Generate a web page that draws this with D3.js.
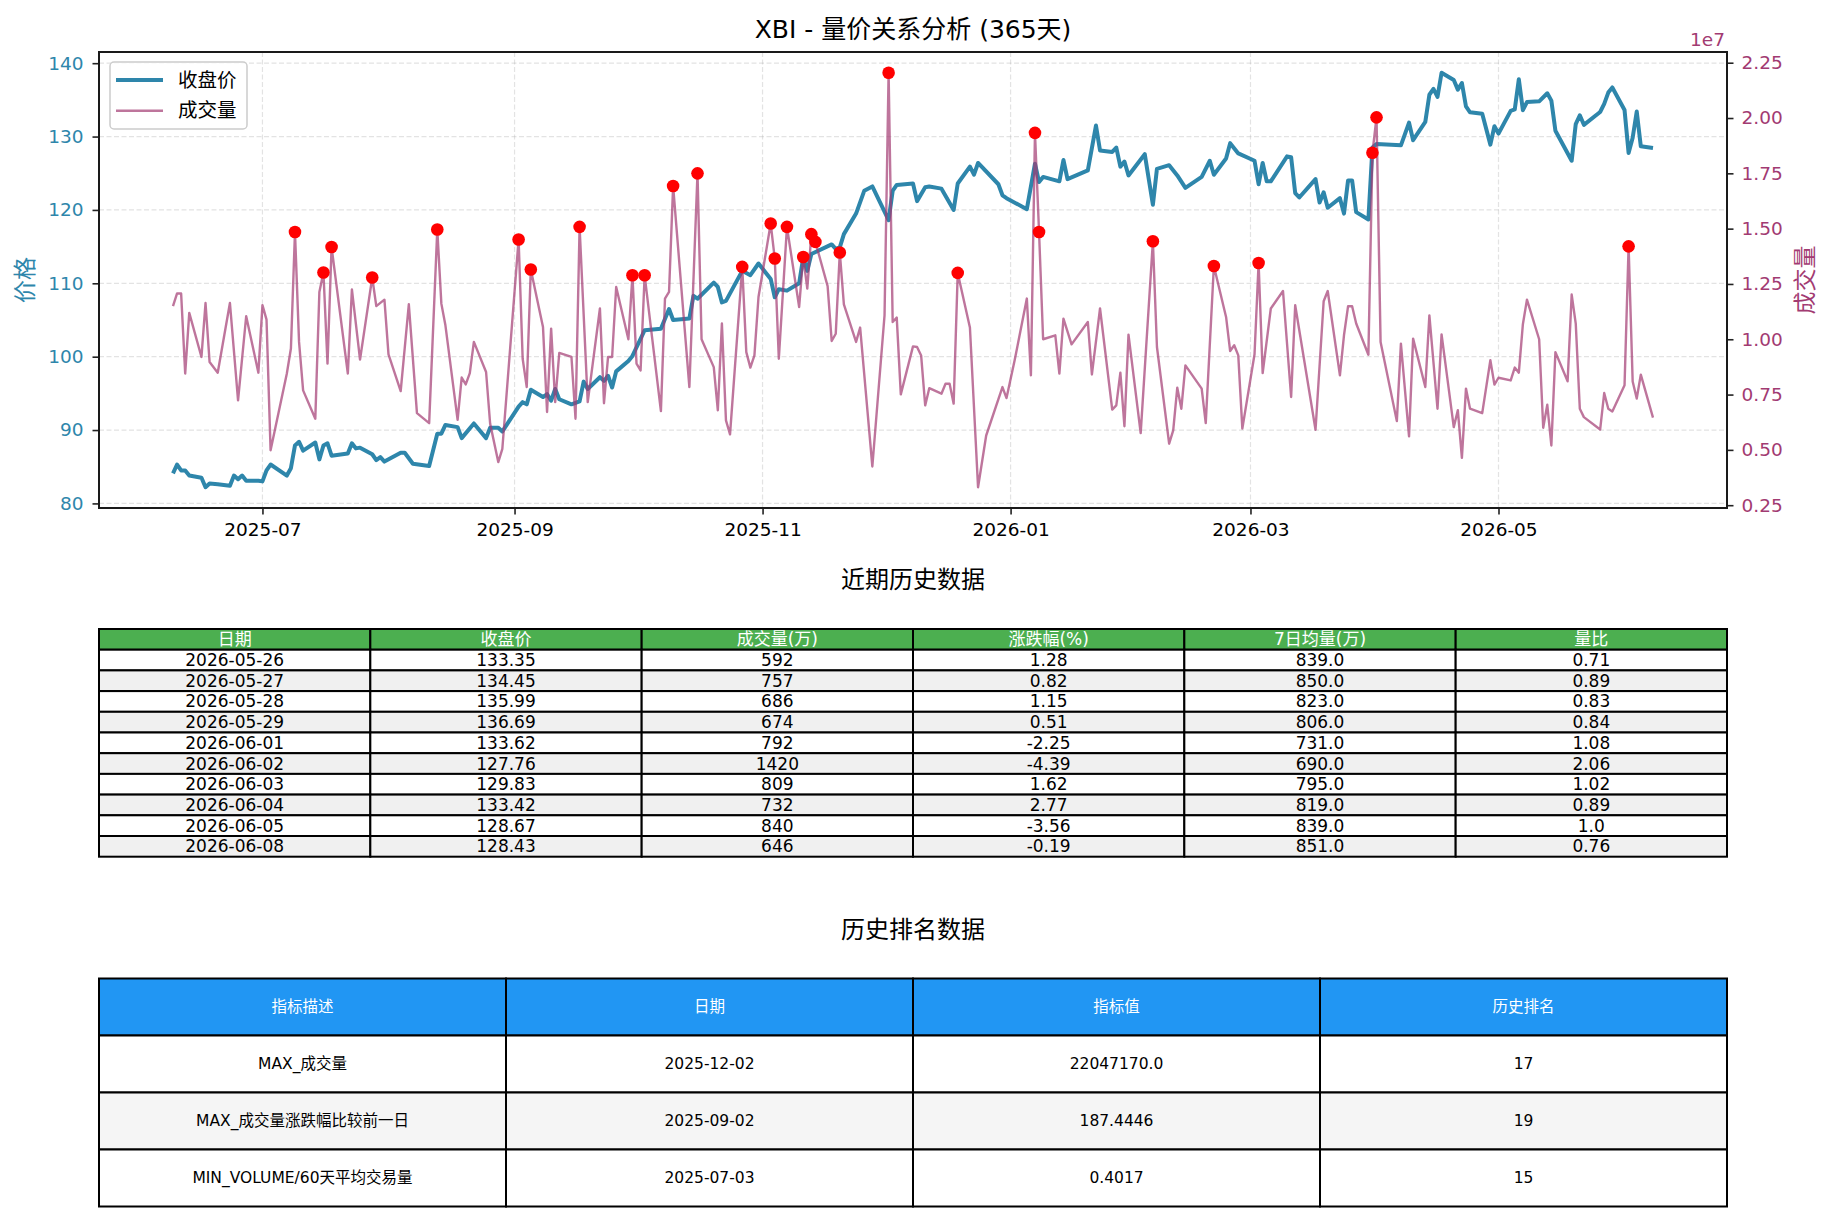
<!DOCTYPE html>
<html>
<head>
<meta charset="utf-8">
<script src="https://cdn.jsdelivr.net/npm/d3@7"></script>
<style>
  body { margin: 0; background: #fff; }
  svg { display: block; font-family: "DejaVu Sans", "Noto Sans CJK SC", sans-serif; }
</style>
</head>
<body>
<script>
// closing price (turning points)
const priceDates = [
  '2025-06-09','2025-06-10','2025-06-11','2025-06-12','2025-06-13','2025-06-16','2025-06-17','2025-06-18','2025-06-20','2025-06-23',
  '2025-06-24','2025-06-25','2025-06-26','2025-06-27','2025-06-30','2025-07-01','2025-07-02','2025-07-03','2025-07-07','2025-07-08',
  '2025-07-09','2025-07-10','2025-07-11','2025-07-14','2025-07-15','2025-07-16','2025-07-17','2025-07-18','2025-07-22','2025-07-23',
  '2025-07-24','2025-07-25','2025-07-28','2025-07-29','2025-07-30','2025-07-31','2025-08-04','2025-08-05','2025-08-07','2025-08-11',
  '2025-08-13','2025-08-14','2025-08-15','2025-08-18','2025-08-19','2025-08-22','2025-08-25','2025-08-26','2025-08-28','2025-08-29',
  '2025-09-02','2025-09-03','2025-09-04','2025-09-05','2025-09-08','2025-09-09','2025-09-10','2025-09-11','2025-09-12','2025-09-15',
  '2025-09-17','2025-09-18','2025-09-19','2025-09-22','2025-09-23','2025-09-24','2025-09-25','2025-09-26','2025-09-29','2025-09-30',
  '2025-10-03','2025-10-07','2025-10-09','2025-10-10','2025-10-14','2025-10-15','2025-10-16','2025-10-20','2025-10-21','2025-10-22',
  '2025-10-23','2025-10-27','2025-10-29','2025-10-31','2025-11-03','2025-11-04','2025-11-05','2025-11-07','2025-11-10','2025-11-11',
  '2025-11-12','2025-11-13','2025-11-18','2025-11-19','2025-11-20','2025-11-21','2025-11-24','2025-11-26','2025-11-28','2025-12-02',
  '2025-12-03','2025-12-04','2025-12-08','2025-12-09','2025-12-11','2025-12-12','2025-12-15','2025-12-18','2025-12-19','2025-12-22',
  '2025-12-23','2025-12-24','2025-12-29','2025-12-30','2025-12-31','2026-01-05','2026-01-07','2026-01-08','2026-01-09','2026-01-13',
  '2026-01-14','2026-01-15','2026-01-20','2026-01-22','2026-01-23','2026-01-26','2026-01-27','2026-01-28','2026-01-29','2026-01-30',
  '2026-02-03','2026-02-05','2026-02-06','2026-02-09','2026-02-11','2026-02-13','2026-02-17','2026-02-19','2026-02-20','2026-02-23',
  '2026-02-24','2026-02-26','2026-03-02','2026-03-03','2026-03-04','2026-03-05','2026-03-06','2026-03-10','2026-03-11','2026-03-12',
  '2026-03-13','2026-03-17','2026-03-18','2026-03-19','2026-03-20','2026-03-23','2026-03-24','2026-03-25','2026-03-26','2026-03-27',
  '2026-03-30','2026-03-31','2026-04-01','2026-04-07','2026-04-09','2026-04-10','2026-04-13','2026-04-14','2026-04-15','2026-04-16',
  '2026-04-17','2026-04-20','2026-04-21','2026-04-22','2026-04-23','2026-04-24','2026-04-27','2026-04-29','2026-04-30','2026-05-01',
  '2026-05-04','2026-05-05','2026-05-06','2026-05-07','2026-05-08','2026-05-11','2026-05-13','2026-05-14','2026-05-15','2026-05-19',
  '2026-05-20','2026-05-21','2026-05-22','2026-05-26','2026-05-27','2026-05-28','2026-05-29','2026-06-01','2026-06-02','2026-06-03',
  '2026-06-04','2026-06-05','2026-06-08'
];
const priceClose = [
  84.1, 85.3, 84.5, 84.5, 83.8, 83.5, 82.2, 82.7, 82.6, 82.4,
  83.8, 83.3, 83.8, 83.1, 83.1, 83.0, 84.5, 85.3, 83.8, 84.8,
  87.9, 88.4, 87.2, 88.3, 86.0, 87.9, 88.2, 86.5, 86.8, 88.2,
  87.5, 87.6, 86.7, 85.9, 86.3, 85.7, 86.9, 86.9, 85.4, 85.1,
  89.5, 89.5, 90.7, 90.4, 88.9, 90.9, 88.9, 90.3, 90.3, 89.8,
  93.2, 93.8, 93.5, 95.5, 94.5, 94.9, 94.0, 95.6, 94.2, 93.5,
  93.9, 96.6, 95.6, 97.2, 96.7, 97.4, 95.8, 98.0, 99.4, 100.1,
  103.6, 103.8, 106.5, 105.0, 105.2, 108.3, 107.9, 110.1, 109.5, 107.4,
  107.6, 111.7, 111.1, 112.7, 110.6, 108.1, 109.2, 109.0, 110.0, 113.5,
  111.7, 114.0, 115.3, 114.7, 114.9, 116.7, 119.5, 122.6, 123.2, 118.6,
  122.6, 123.4, 123.6, 121.2, 123.1, 123.2, 122.9, 120.0, 123.6, 125.9,
  124.8, 126.4, 123.5, 122.0, 121.6, 120.1, 126.3, 123.8, 124.5, 123.9,
  126.8, 124.2, 125.4, 131.5, 128.1, 127.9, 128.5, 125.9, 126.6, 124.7,
  127.6, 120.7, 125.6, 126.1, 124.7, 123.0, 124.5, 126.7, 124.8, 127.0,
  129.1, 127.7, 126.7, 123.5, 126.4, 123.9, 123.9, 127.3, 127.2, 122.3,
  121.7, 124.2, 121.0, 122.4, 120.3, 121.6, 119.5, 124.0, 124.0, 119.7,
  118.7, 128.5, 129.0, 128.8, 131.9, 129.5, 132.0, 135.7, 136.5, 135.4,
  138.7, 137.7, 136.4, 137.3, 134.1, 133.3, 133.1, 128.9, 131.4, 130.4,
  133.5, 133.7, 137.8, 133.6, 134.7, 134.8, 135.9, 134.9, 130.8, 126.7,
  131.7, 132.9, 131.6, 133.35, 134.45, 135.99, 136.69, 133.62, 127.76, 129.83,
  133.42, 128.67, 128.43
];

// volume in 万 (10k shares)
const volDates = [
  '2025-06-09','2025-06-10','2025-06-11','2025-06-12','2025-06-13','2025-06-16','2025-06-17','2025-06-18','2025-06-20','2025-06-23',
  '2025-06-25','2025-06-27','2025-06-30','2025-07-01','2025-07-02','2025-07-03','2025-07-07','2025-07-08','2025-07-09','2025-07-10',
  '2025-07-11','2025-07-14','2025-07-15','2025-07-16','2025-07-17','2025-07-18','2025-07-22','2025-07-23','2025-07-25','2025-07-28',
  '2025-07-29','2025-07-31','2025-08-01','2025-08-04','2025-08-06','2025-08-08','2025-08-11','2025-08-13','2025-08-14','2025-08-15',
  '2025-08-18','2025-08-19','2025-08-20','2025-08-21','2025-08-22','2025-08-25','2025-08-26','2025-08-28','2025-08-29','2025-09-02',
  '2025-09-03','2025-09-04','2025-09-05','2025-09-08','2025-09-09','2025-09-10','2025-09-11','2025-09-12','2025-09-15','2025-09-16',
  '2025-09-17','2025-09-19','2025-09-22','2025-09-23','2025-09-24','2025-09-25','2025-09-26','2025-09-29','2025-09-30','2025-10-01',
  '2025-10-02','2025-10-03','2025-10-07','2025-10-08','2025-10-09','2025-10-10','2025-10-14','2025-10-16','2025-10-17','2025-10-20',
  '2025-10-21','2025-10-22','2025-10-23','2025-10-24','2025-10-27','2025-10-28','2025-10-29','2025-10-30','2025-10-31','2025-11-03',
  '2025-11-04','2025-11-05','2025-11-07','2025-11-10','2025-11-11','2025-11-12','2025-11-13','2025-11-14','2025-11-17','2025-11-18',
  '2025-11-19','2025-11-20','2025-11-21','2025-11-24','2025-11-25','2025-11-28','2025-12-01','2025-12-02','2025-12-03','2025-12-04',
  '2025-12-05','2025-12-08','2025-12-09','2025-12-10','2025-12-11','2025-12-12','2025-12-15','2025-12-16','2025-12-17','2025-12-18',
  '2025-12-19','2025-12-22','2025-12-24','2025-12-26','2025-12-30','2025-12-31','2026-01-02','2026-01-05','2026-01-06','2026-01-07',
  '2026-01-08','2026-01-09','2026-01-12','2026-01-13','2026-01-14','2026-01-16','2026-01-20','2026-01-21','2026-01-23','2026-01-26',
  '2026-01-27','2026-01-28','2026-01-29','2026-01-30','2026-02-02','2026-02-05','2026-02-06','2026-02-09','2026-02-10','2026-02-11',
  '2026-02-12','2026-02-13','2026-02-17','2026-02-18','2026-02-20','2026-02-23','2026-02-24','2026-02-25','2026-02-26','2026-02-27',
  '2026-03-02','2026-03-03','2026-03-04','2026-03-06','2026-03-09','2026-03-11','2026-03-12','2026-03-17','2026-03-19','2026-03-20',
  '2026-03-23','2026-03-24','2026-03-25','2026-03-26','2026-03-27','2026-03-30','2026-03-31','2026-04-01','2026-04-02','2026-04-06',
  '2026-04-07','2026-04-09','2026-04-10','2026-04-13','2026-04-14','2026-04-16','2026-04-17','2026-04-20','2026-04-21','2026-04-22',
  '2026-04-23','2026-04-24','2026-04-27','2026-04-29','2026-04-30','2026-05-01','2026-05-04','2026-05-05','2026-05-06','2026-05-07',
  '2026-05-08','2026-05-11','2026-05-12','2026-05-13','2026-05-14','2026-05-15','2026-05-18','2026-05-19','2026-05-20','2026-05-21',
  '2026-05-22','2026-05-26','2026-05-27','2026-05-28','2026-05-29','2026-06-01','2026-06-02','2026-06-03','2026-06-04','2026-06-05',
  '2026-06-08'
];
const volWan = [
  1150, 1207, 1207, 845, 1119, 920, 1164, 897, 849, 1164,
  724, 1104, 849, 1154, 1089, 498, 845, 958, 1485, 988,
  769, 641, 1214, 1302, 890, 1417, 845, 1225, 908, 1279,
  1150, 1179, 932, 766, 1158, 666, 621, 1496, 1161, 1063,
  636, 827, 796, 847, 988, 852, 618, 445, 505, 1451,
  912, 784, 1315, 1055, 671, 1048, 716, 938, 920, 641,
  1508, 716, 1139, 711, 920, 920, 1236, 1000, 1289, 890,
  859, 1289, 675, 1184, 1214, 1693, 784, 1750, 1000, 874,
  679, 1071, 633, 570, 1327, 942, 872, 927, 1191, 1523,
  1365, 912, 1508, 1146, 1372, 1229, 1475, 1440, 1240, 992,
  1025, 1392, 1158, 988, 1053, 425, 1108, 2204.717, 1078, 1098,
  751, 968, 965, 927, 701, 779, 754, 799, 799, 709,
  1300, 1053, 331, 565, 784, 734, 905, 1184, 837, 1933,
  1485, 1000, 1018, 845, 1093, 977, 1078, 841, 1139, 682,
  701, 849, 607, 1021, 576, 1443, 965, 528, 588, 781,
  686, 882, 777, 621, 1331, 1101, 947, 973, 927, 596,
  932, 1345, 847, 1139, 1218, 739, 1154, 591, 1172, 1218,
  837, 1018, 1149, 1149, 1071, 930, 1843, 2003, 988, 630,
  980, 561, 1003, 784, 1108, 686, 1022, 603, 679, 464,
  777, 686, 666, 905, 795, 826, 814, 872, 849, 1068,
  1179, 1000, 600, 704, 520, 942, 810, 1202, 1071, 686,
  648, 592, 757, 686, 674, 792, 1420, 809, 732, 840,
  646
];

// days marked as volume spikes
const spikeDates = [
  '2025-07-09','2025-07-16','2025-07-18','2025-07-28','2025-08-13','2025-09-02','2025-09-05','2025-09-17','2025-09-30','2025-10-03',
  '2025-10-10','2025-10-16','2025-10-27','2025-11-03','2025-11-04','2025-11-07','2025-11-11','2025-11-13','2025-11-14','2025-11-20',
  '2025-12-02','2025-12-19','2026-01-07','2026-01-08','2026-02-05','2026-02-20','2026-03-03','2026-03-31','2026-04-01','2026-06-02'
];

const priceTicks = [80, 90, 100, 110, 120, 130, 140];
const volTicks = [0.25, 0.5, 0.75, 1.0, 1.25, 1.5, 1.75, 2.0, 2.25];
const monthTicks = ['2025-07', '2025-09', '2025-11', '2026-01', '2026-03', '2026-05'];

// recent history table
const recentHeaders = ['日期', '收盘价', '成交量(万)', '涨跌幅(%)', '7日均量(万)', '量比'];
const recentDates = ['2026-05-26','2026-05-27','2026-05-28','2026-05-29','2026-06-01','2026-06-02','2026-06-03','2026-06-04','2026-06-05','2026-06-08'];
const recentClose = ['133.35','134.45','135.99','136.69','133.62','127.76','129.83','133.42','128.67','128.43'];
const recentVol = ['592','757','686','674','792','1420','809','732','840','646'];
const recentChange = ['1.28','0.82','1.15','0.51','-2.25','-4.39','1.62','2.77','-3.56','-0.19'];
const recentAvg7 = ['839.0','850.0','823.0','806.0','731.0','690.0','795.0','819.0','839.0','851.0'];
const recentRatio = ['0.71','0.89','0.83','0.84','1.08','2.06','1.02','0.89','1.0','0.76'];

// ranking table
const rankHeaders = ['指标描述', '日期', '指标值', '历史排名'];
const rankDesc = ['MAX_成交量', 'MAX_成交量涨跌幅比较前一日', 'MIN_VOLUME/60天平均交易量'];
const rankDates = ['2025-12-02', '2025-09-02', '2025-07-03'];
const rankValues = ['22047170.0', '187.4446', '0.4017'];
const rankPlaces = ['17', '19', '15'];

const W = 1833, H = 1222;
const m = {left: 99, right: 1727, top: 52, bottom: 508};
const priceColor = '#2E86AB', volColor = '#A23B72';

const svg = d3.select('body').append('svg')
    .attr('width', W)
    .attr('height', H);

const parse = d3.timeParse('%Y-%m-%d');
const price = priceDates.map((d, i) => ({date: parse(d), v: priceClose[i]}));
const vol = volDates.map((d, i) => ({date: parse(d), v: volWan[i] * 1e4}));
const volByDate = new Map(vol.map(d => [volDates[vol.indexOf(d)], d]));
const spikes = spikeDates.map(d => volByDate.get(d));

// matplotlib style 5% margins
const pad = ([lo, hi]) => [lo - (hi - lo) * 0.05, hi + (hi - lo) * 0.05];

const tExt = d3.extent(price, d => d.date);
const x = d3.scaleTime()
    .domain(pad(tExt.map(Number)).map(t => new Date(t)))
    .range([m.left, m.right]);
const y = d3.scaleLinear()
    .domain(pad(d3.extent(priceClose)))
    .range([m.bottom, m.top]);
const y2 = d3.scaleLinear()
    .domain(pad(d3.extent(vol, d => d.v)))
    .range([m.bottom, m.top]);

// grid
const grid = svg.append('g')
    .attr('stroke', '#b0b0b0')
    .attr('stroke-opacity', 0.35)
    .attr('stroke-width', 1.2)
    .attr('stroke-dasharray', '5,2.5');
grid.selectAll('.gy').data(priceTicks).enter().append('line')
    .attr('x1', m.left).attr('x2', m.right)
    .attr('y1', d => y(d)).attr('y2', d => y(d));
const monthDates = monthTicks.map(d3.timeParse('%Y-%m'));
grid.selectAll('.gx').data(monthDates).enter().append('line')
    .attr('y1', m.top).attr('y2', m.bottom)
    .attr('x1', d => x(d)).attr('x2', d => x(d));

// price line
svg.append('path')
    .datum(price)
    .attr('fill', 'none')
    .attr('stroke', priceColor)
    .attr('stroke-width', 4)
    .attr('stroke-linejoin', 'round')
    .attr('d', d3.line().x(d => x(d.date)).y(d => y(d.v)));

// volume line
svg.append('path')
    .datum(vol)
    .attr('fill', 'none')
    .attr('stroke', volColor)
    .attr('stroke-opacity', 0.7)
    .attr('stroke-width', 2.4)
    .attr('stroke-linejoin', 'round')
    .attr('d', d3.line().x(d => x(d.date)).y(d => y2(d.v)));

// spike markers
svg.selectAll('.spike')
    .data(spikes)
    .enter().append('circle')
    .attr('cx', d => x(d.date))
    .attr('cy', d => y2(d.v))
    .attr('r', 6.3)
    .attr('fill', '#ff0000');

// axes
function styleAxis(g, color) {
    g.select('.domain').remove();
    g.selectAll('.tick line').attr('stroke', '#222').attr('stroke-width', 1.6);
    g.selectAll('.tick text')
        .attr('fill', color)
        .style('font-size', '18.5px')
        .style('font-family', '"DejaVu Sans", sans-serif');
}

svg.append('g')
    .attr('transform', 'translate(' + m.left + ',0)')
    .call(d3.axisLeft(y).tickValues(priceTicks).tickSize(6.5).tickPadding(9))
    .call(g => styleAxis(g, priceColor));

svg.append('g')
    .attr('transform', 'translate(' + m.right + ',0)')
    .call(d3.axisRight(y2).tickValues(volTicks.map(v => v * 1e7))
        .tickFormat(d => (d / 1e7).toFixed(2)).tickSize(6.5).tickPadding(8))
    .call(g => styleAxis(g, volColor));

svg.append('g')
    .attr('transform', 'translate(0,' + m.bottom + ')')
    .call(d3.axisBottom(x).tickValues(monthDates).tickFormat(d3.timeFormat('%Y-%m')).tickSize(6.5).tickPadding(8.5))
    .call(g => styleAxis(g, '#000'));

// frame
svg.append('rect')
    .attr('x', m.left).attr('y', m.top)
    .attr('width', m.right - m.left).attr('height', m.bottom - m.top)
    .attr('fill', 'none')
    .attr('stroke', '#1a1a1a')
    .attr('stroke-width', 2);

// offset label for the volume axis
svg.append('text')
    .attr('x', 1725).attr('y', 46)
    .attr('text-anchor', 'end')
    .attr('fill', volColor)
    .style('font-size', '18.5px')
    .text('1e7');

// axis titles
svg.append('text')
    .attr('transform', 'translate(25,' + (m.top + m.bottom) / 2 + ') rotate(-90)')
    .attr('text-anchor', 'middle')
    .attr('dominant-baseline', 'central')
    .attr('fill', priceColor)
    .style('font-size', '23px')
    .text('价格');
svg.append('text')
    .attr('transform', 'translate(1805,' + (m.top + m.bottom) / 2 + ') rotate(-90)')
    .attr('text-anchor', 'middle')
    .attr('dominant-baseline', 'central')
    .attr('fill', volColor)
    .style('font-size', '23px')
    .text('成交量');

// chart title
svg.append('text')
    .attr('x', (m.left + m.right) / 2).attr('y', 38)
    .attr('text-anchor', 'middle')
    .style('font-size', '25px')
    .text('XBI - 量价关系分析 (365天)');

// legend
const legend = svg.append('g').attr('transform', 'translate(110,62)');
legend.append('rect')
    .attr('width', 137).attr('height', 67).attr('rx', 4)
    .attr('fill', '#fff').attr('fill-opacity', 0.8)
    .attr('stroke', '#cccccc').attr('stroke-width', 1.5);
legend.append('line')
    .attr('x1', 6).attr('x2', 53).attr('y1', 18).attr('y2', 18)
    .attr('stroke', priceColor).attr('stroke-width', 4);
legend.append('line')
    .attr('x1', 6).attr('x2', 53).attr('y1', 48.7).attr('y2', 48.7)
    .attr('stroke', volColor).attr('stroke-opacity', 0.7).attr('stroke-width', 2.4);
legend.append('text').attr('x', 68).attr('y', 18).attr('dominant-baseline', 'central')
    .style('font-size', '19.5px').text('收盘价');
legend.append('text').attr('x', 68).attr('y', 48.7).attr('dominant-baseline', 'central')
    .style('font-size', '19.5px').text('成交量');

// tables
function drawTable(top, rowH, headers, columns, headColor, stripe, fontSize) {
    const colW = (m.right - m.left) / headers.length;
    const body = d3.range(columns[0].length).map(i => columns.map(c => c[i]));
    const rows = [headers].concat(body);
    const g = svg.append('g');
    rows.forEach((r, ri) => {
        const fill = ri === 0 ? headColor : (ri % 2 === 0 ? stripe : '#ffffff');
        r.forEach((txt, ci) => {
            g.append('rect')
                .attr('x', m.left + ci * colW).attr('y', top + ri * rowH)
                .attr('width', colW).attr('height', rowH)
                .attr('fill', fill)
                .attr('stroke', '#000').attr('stroke-width', 2);
            g.append('text')
                .attr('x', m.left + (ci + 0.5) * colW)
                .attr('y', top + (ri + 0.5) * rowH)
                .attr('text-anchor', 'middle')
                .attr('dominant-baseline', 'central')
                .attr('fill', ri === 0 ? '#fff' : '#000')
                .style('font-size', fontSize + 'px')
                .text(txt);
        });
    });
}

svg.append('text')
    .attr('x', (m.left + m.right) / 2).attr('y', 580)
    .attr('text-anchor', 'middle').attr('dominant-baseline', 'central')
    .style('font-size', '24px')
    .text('近期历史数据');
drawTable(629, 227.7 / 11, recentHeaders,
    [recentDates, recentClose, recentVol, recentChange, recentAvg7, recentRatio],
    '#4CAF50', '#f0f0f0', 17);

svg.append('text')
    .attr('x', (m.left + m.right) / 2).attr('y', 930)
    .attr('text-anchor', 'middle').attr('dominant-baseline', 'central')
    .style('font-size', '24px')
    .text('历史排名数据');
drawTable(978.5, 57, rankHeaders,
    [rankDesc, rankDates, rankValues, rankPlaces],
    '#2196F3', '#f5f5f5', 15.5);
</script>
</body>
</html>
